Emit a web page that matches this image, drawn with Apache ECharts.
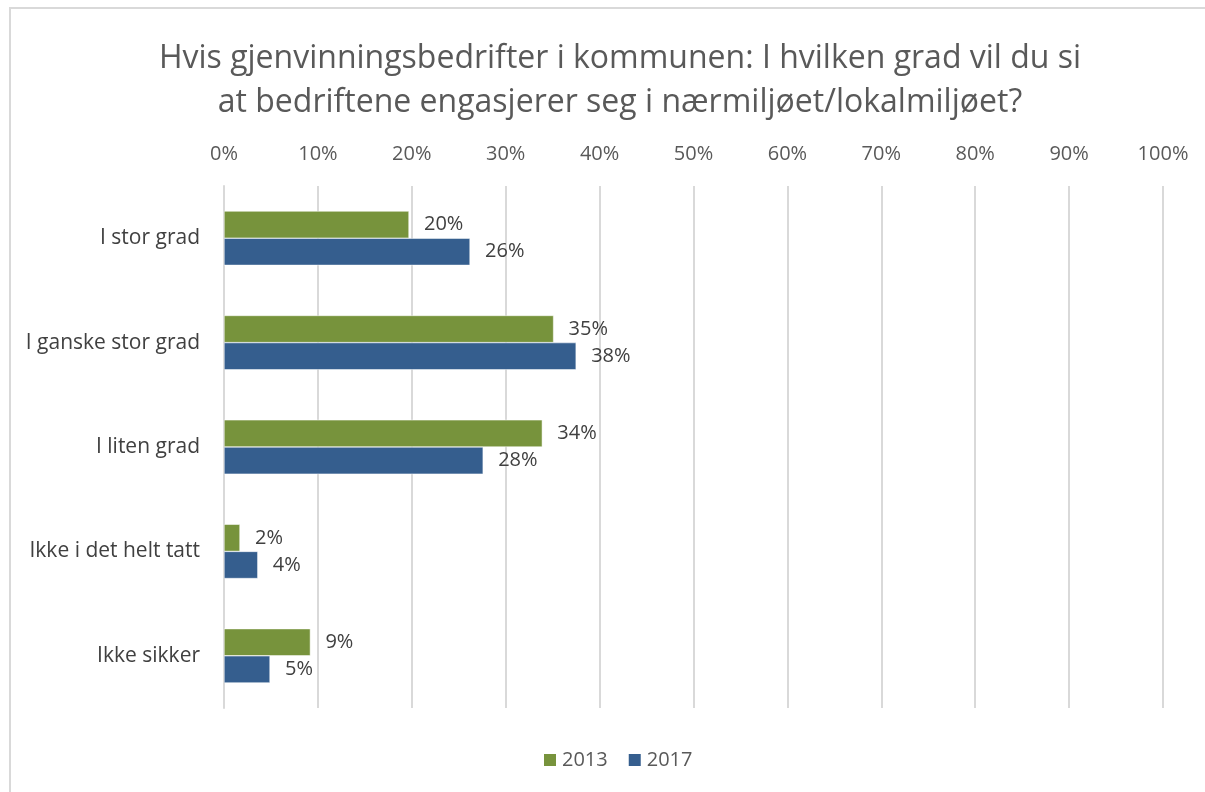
<!DOCTYPE html>
<html>

<head>
  <meta charset="UTF-8">
  <title>Gjenvinningsbedrifter</title>
  <script src="https://cdn.jsdelivr.net/npm/echarts@6/dist/echarts.min.js"></script>
  <style>
    body { margin: 0; background: #fff; }
  </style>
</head>

<body>
  <div id="main" style="width: 1205px;height:792px;"></div>
  <script type="text/javascript">
    // data
    var categories = ['I stor grad', 'I ganske stor grad', 'I liten grad', 'Ikke i det helt tatt', 'Ikke sikker'];
    var values2013 = [19.7, 35.1, 33.9, 1.7, 9.2];
    var values2017 = [26.2, 37.5, 27.6, 3.6, 4.9];
    var seriesNames = ['2013', '2017'];
    var titleText = 'Hvis gjenvinningsbedrifter i kommunen: I hvilken grad vil du si\nat bedriftene engasjerer seg i nærmiljøet/lokalmiljøet?';

    var font = '"Open Sans", sans-serif';
    var myChart = echarts.init(document.getElementById('main'));

    var labelOpt = {
      show: true,
      position: 'right',
      distance: 15,
      fontFamily: font,
      fontSize: 20,
      color: '#404040',
      formatter: function (p) {
        return Math.round(p.value) + '%';
      }
    };

    var option = {
      backgroundColor: '#fff',
      animation: false,
      title: {
        text: titleText,
        left: 615,
        textAlign: 'center',
        top: 32,
        textStyle: {
          fontFamily: font,
          fontWeight: 'normal',
          fontSize: 32,
          lineHeight: 44,
          color: '#595959'
        }
      },
      graphic: [{
        type: 'rect',
        shape: { x: 10, y: 8, width: 1300, height: 900 },
        style: { fill: 'none', stroke: '#d9d9d9', lineWidth: 2 },
        silent: true
      }],
      legend: {
        bottom: 17,
        left: 537,
        itemWidth: 14,
        itemHeight: 14,
        itemGap: 19,
        icon: 'rect',
        textStyle: { fontFamily: font, fontSize: 20, color: '#595959', padding: [0, 0, 0, 0] },
        data: seriesNames
      },
      grid: {
        left: 224,
        right: 42,
        top: 186,
        bottom: 84,
        containLabel: false
      },
      xAxis: {
        type: 'value',
        position: 'top',
        min: 0,
        max: 100,
        interval: 10,
        axisLine: { show: false },
        axisTick: { show: false },
        axisLabel: {
          formatter: '{value}%',
          margin: 22,
          fontFamily: font,
          fontSize: 20,
          color: '#595959'
        },
        splitLine: { lineStyle: { color: '#d9d9d9', width: 2 } }
      },
      yAxis: {
        type: 'category',
        inverse: true,
        data: categories,
        axisLine: { show: true, lineStyle: { color: '#d9d9d9', width: 2 } },
        axisTick: { show: false },
        axisLabel: {
          margin: 24,
          fontFamily: font,
          fontSize: 21,
          color: '#404040'
        }
      },
      series: [{
        name: seriesNames[0],
        type: 'bar',
        data: values2013,
        barGap: '0%',
        barCategoryGap: '48%',
        itemStyle: { color: '#77933c', borderColor: '#fff', borderWidth: 0.5 },
        label: labelOpt
      }, {
        name: seriesNames[1],
        type: 'bar',
        data: values2017,
        barGap: '0%',
        barCategoryGap: '48%',
        itemStyle: { color: '#355e8e', borderColor: '#fff', borderWidth: 0.5 },
        label: labelOpt
      }]
    };

    myChart.setOption(option);
  </script>
</body>

</html>
